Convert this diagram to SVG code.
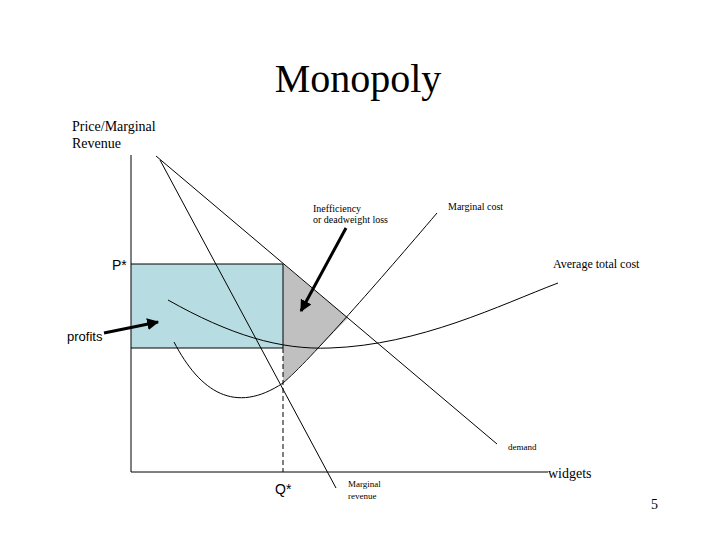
<svg xmlns="http://www.w3.org/2000/svg" width="720" height="540" viewBox="0 0 720 540">
<style>
.t{font-family:"Liberation Serif","Times New Roman",serif;fill:#000}
.s{font-family:"Liberation Sans",Arial,sans-serif;fill:#000}
.ln{stroke:#000;stroke-width:1;fill:none}
.ar{stroke:#000;stroke-width:3;fill:none}
</style>
<defs>
<marker id="ah" viewBox="0 0 10 10" refX="9" refY="5" markerWidth="4" markerHeight="4" orient="auto" markerUnits="strokeWidth">
<path d="M0,0 L10,5 L0,10 z" fill="#000"/>
</marker>
</defs>
<rect width="720" height="540" fill="#fff"/>
<text class="t" x="358" y="92" font-size="40" text-anchor="middle">Monopoly</text>
<g id="areas">
<rect x="131" y="264" width="152" height="84" fill="#b7dde2"/>
<polygon points="283,264 348,318 283,383" fill="#c0c0c0"/>
</g>
<g id="axes">
<line class="ln" x1="131" y1="155" x2="131" y2="472"/>
<line class="ln" x1="131" y1="472" x2="548" y2="472"/>
</g>
<g id="connectors">
<line class="ln" x1="131" y1="264" x2="283" y2="264"/>
<line class="ln" x1="131" y1="348" x2="283" y2="348"/>
<line class="ln" x1="283" y1="264" x2="283" y2="348"/>
<line class="ln" x1="283" y1="348" x2="283" y2="472" stroke-dasharray="5,3"/>
<line class="ln" x1="156" y1="156" x2="497" y2="444"/>
<line class="ln" x1="160" y1="160" x2="336" y2="488"/>
<path class="ln" d="M174,342 C200,392 235,415 283,383 C310,360 380,280 437,213"/>
<path class="ln" d="M168,300 C230,335 280,350 330,348 C420,345 500,305 558,283"/>
<line class="ar" x1="104" y1="333" x2="158" y2="322" marker-end="url(#ah)"/>
<line class="ar" x1="346" y1="228" x2="301" y2="311" marker-end="url(#ah)"/>
</g>
<g id="labels">
<text class="t" x="72" y="131" font-size="14">Price/Marginal</text>
<text class="t" x="72" y="148" font-size="14">Revenue</text>
<text class="t" x="313" y="212" font-size="10">Inefficiency</text>
<text class="t" x="313" y="223" font-size="10">or deadweight loss</text>
<text class="t" x="448" y="210" font-size="10">Marginal cost</text>
<text class="s" x="112" y="270" font-size="14">P*</text>
<text class="t" x="553" y="268" font-size="12">Average total cost</text>
<text class="s" x="67" y="341" font-size="13">profits</text>
<text class="t" x="508" y="450" font-size="9">demand</text>
<text class="s" x="275" y="494" font-size="14">Q*</text>
<text class="t" x="348" y="487" font-size="9">Marginal</text>
<text class="t" x="348" y="499" font-size="9">revenue</text>
<text class="t" x="548" y="478" font-size="14">widgets</text>
<text class="t" x="651" y="509" font-size="14">5</text>
</g>
</svg>
